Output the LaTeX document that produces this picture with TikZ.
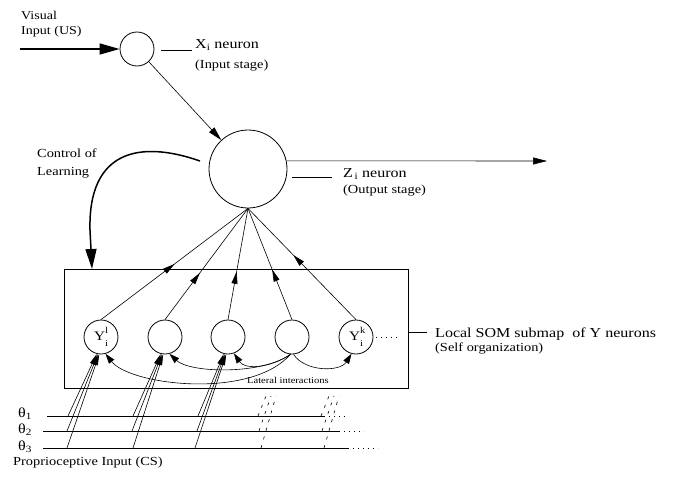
\documentclass[tikz,border=0pt]{standalone}
\usepackage{fontspec}
\setmainfont[FakeStretch=1.17]{Liberation Serif}
\usetikzlibrary{arrows.meta,decorations.markings}
\newcommand{\Ylab}[1]{Y\makebox[0pt][l]{\raisebox{1.2ex}{\fontsize{9}{9}\selectfont #1}}\raisebox{-1.0ex}{\fontsize{9}{9}\selectfont i}}
\begin{document}
\begin{tikzpicture}[x=1pt,y=-1pt,
  neuron/.style={circle,draw,line width=0.8pt,minimum size=34pt,inner sep=0pt,font=\fontsize{13}{13}\selectfont},
  wire/.style={line width=0.6pt},
  bigarrow/.style={line width=1.5pt,-{Triangle[length=20pt,width=11pt]}},
  arr/.style={wire,-{Triangle[length=14pt,width=7pt]}},
  latarr/.style={wire,-{Triangle[length=10pt,width=6.5pt]}},
  inarr/.style={wire,-{Triangle[length=11pt,width=4.5pt]}},
  midarrow/.style={wire,postaction={decorate},decoration={markings,mark=at position #1 with {\arrow{Triangle[length=12pt,width=6pt]}}}},
  dashin/.style={line width=0.6pt,dash pattern=on 3pt off 6pt},
  dotsline/.style={line width=0.8pt,dash pattern=on 0.8pt off 4.2pt},
  lbl/.style={anchor=base west,inner sep=0pt,font=\fontsize{12.3}{14}\selectfont},
  lblbig/.style={anchor=base west,inner sep=0pt,font=\fontsize{13.7}{15}\selectfont},
  lblsmall/.style={anchor=base west,inner sep=0pt,font=\fontsize{9}{11}\selectfont}
]
\useasboundingbox (0,0) rectangle (677,479);

% neurons
\node[neuron] (X) at (137,49) {};
\node[neuron,minimum size=78pt] (Z) at (248,169) {};
\node[draw,line width=0.6pt,minimum width=344pt,minimum height=119pt,inner sep=0pt] (box) at (236,328.5) {};
\node[neuron] (Y1) at (101,337) {\Ylab{l}};
\node[neuron] (Y2) at (165,337) {};
\node[neuron] (Y3) at (228,337) {};
\node[neuron] (Y4) at (292,337) {};
\node[neuron] (Y5) at (356,337) {\Ylab{k}};

% labels
\node[lbl,font=\fontsize{12}{14}\selectfont] (vis1) at (21,19) {Visual};
\node[lbl,font=\fontsize{12}{14}\selectfont] (vis2) at (21,34) {Input (US)};
\node[lblbig] (xn) at (195,48) {X\textsubscript{i} neuron};
\node[lbl] (xs) at (195,68) {(Input stage)};
\node[lblbig] (zn) at (343,177) {Z\textsubscript{\,i} neuron};
\node[lbl] (zs) at (343,193) {(Output stage)};
\node[lbl] (cl1) at (37,157) {Control of};
\node[lbl] (cl2) at (37,175) {Learning};
\node[lblbig] (som) at (435,337) {Local SOM submap\ \ of Y neurons};
\node[lbl] (soms) at (435,351) {(Self organization)};
\node[lblsmall] (lat) at (247,383) {Lateral interactions};
\node[lblbig] (th1) at (18,417) {θ\textsubscript{1}};
\node[lblbig] (th2) at (18,433) {θ\textsubscript{2}};
\node[lblbig] (th3) at (18,450) {θ\textsubscript{3}};
\node[lbl] (prop) at (13,465) {Proprioceptive Input (CS)};

% visual input
\coordinate (vin) at (20,49);
\draw[bigarrow] (vin) -- (X);
\draw[arr] (X) -- (Z);

% leader lines
\coordinate (xl1) at (161,50); \coordinate (xl2) at (192,50);
\draw[wire] (xl1) -- (xl2);
\coordinate (zl1) at (292,177); \coordinate (zl2) at (332,177);
\draw[wire] (zl1) -- (zl2);
\coordinate (sl1) at (408,332); \coordinate (sl2) at (427,332);
\draw[wire] (sl1) -- (sl2);

% output
\coordinate (zend) at (547,161);
\draw[arr] (Z.12) -- (zend);

% control of learning
\coordinate (cls) at (200,161);
\coordinate (cle) at (92,269);
\draw[bigarrow] (cls) .. controls (140,140) and (88,150) .. (90,230) -- (cle);

% Y to Z
\draw[midarrow=0.50] (Y1.north) -- (Z.south);
\draw[midarrow=0.42] (Y2.north) -- (Z.south);
\draw[midarrow=0.43] (Y3.north) -- (Z.south);
\draw[midarrow=0.45] (Y4.north) -- (Z.south);
\draw[midarrow=0.58] (Y5.north) -- (Z.south);

% lateral interactions
\draw[latarr] (Y4.-95) .. controls (270,368) and (245,370) .. (Y3.-70);
\draw[latarr] (Y4.-95) .. controls (262,375) and (190,373) .. (Y2.-75);
\draw[latarr] (Y4.-95) .. controls (250,400) and (130,385) .. (Y1.-75);
\draw[latarr] (Y4.-85) .. controls (305,372) and (340,372) .. (Y5.-105);

% dots after Y5
\coordinate (yd1) at (376,337); \coordinate (yd2) at (400,337);
\draw[dotsline] (yd1) -- (yd2);

% theta lines
\coordinate (t1a) at (47,416); \coordinate (t1b) at (324,416); \coordinate (t1c) at (348,416);
\coordinate (t2a) at (43,431); \coordinate (t2b) at (339,431); \coordinate (t2c) at (364,431);
\coordinate (t3a) at (43,448); \coordinate (t3b) at (348,448); \coordinate (t3c) at (378,448);
\draw[wire] (t1a) -- (t1b); \draw[dotsline] (t1b) -- (t1c);
\draw[wire] (t2a) -- (t2b); \draw[dotsline] (t2b) -- (t2c);
\draw[wire] (t3a) -- (t3b); \draw[dotsline] (t3b) -- (t3c);

% proprioceptive inputs
\foreach \n/\xa/\xb/\xc in {1/68/67/67, 2/133/132/133, 3/198/197/195} {
  \coordinate (p1\n) at (\xa,416);
  \coordinate (p2\n) at (\xb,431);
  \coordinate (p3\n) at (\xc,448);
  \draw[inarr] (p1\n) -- (Y\n.-104);
  \draw[inarr] (p2\n) -- (Y\n.-100);
  \draw[inarr] (p3\n) -- (Y\n.-96);
}

% elided inputs (dashed)
\foreach \s in {0,63} {
  \coordinate (da\s) at (261+\s,448); \coordinate (db\s) at (276+\s,396);
  \coordinate (dc\s) at (259+\s,431); \coordinate (dd\s) at (271+\s,396);
  \coordinate (de\s) at (258+\s,416); \coordinate (df\s) at (266+\s,396);
  \draw[dashin] (da\s) -- (db\s);
  \draw[dashin] (dc\s) -- (dd\s);
  \draw[dashin] (de\s) -- (df\s);
}
\end{tikzpicture}
\end{document}
